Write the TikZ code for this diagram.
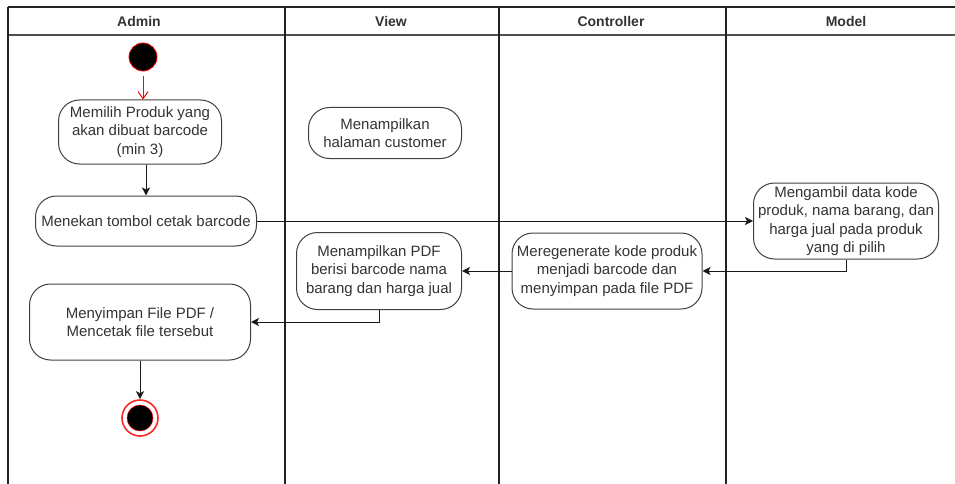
\documentclass[tikz,border=0pt]{standalone}
\usepackage{fontspec}
\setmainfont{Liberation Sans}
\usepackage{tikz}
\usetikzlibrary{arrows,arrows.meta,positioning,calc}
\definecolor{txt}{HTML}{333333}
\definecolor{lane}{HTML}{222222}

\begin{document}
\begin{tikzpicture}[x=1pt,y=-1pt,>={Stealth[length=8pt,width=8pt,inset=2pt]},
    act/.style={draw=black!75,line width=1pt,rounded corners=21pt,align=center,inner sep=0pt,
      text=txt,font=\fontsize{15}{18.5}\selectfont},
    head/.style={font=\bfseries\fontsize{14}{16}\selectfont,text=txt},
    flow/.style={->,line width=1pt,draw=black!90}]
    \useasboundingbox (0,0) rectangle (955,484);
    % swimlanes
    \draw[lane,line width=1.3pt] (8,7) -- (955,7);
    \draw[lane!80,line width=1.3pt] (8,35) -- (955,35);
    \foreach \lx in {8,285,499,726}
        \draw[lane,line width=1.3pt] (\lx,7) -- (\lx,484);
    \node[head] (hadmin) at (139,21) {Admin};
    \node[head] (hview) at (391,21) {View};
    \node[head] (hctrl) at (611,21) {Controller};
    \node[head] (hmodel) at (846,21) {Model};
    % start / end
    \node[circle,fill=black,draw=red,line width=.8pt,minimum size=28pt,inner sep=0pt] (start) at (143,57) {};
    \node[circle,draw=red!85,line width=1.6pt,fill=white,minimum size=36pt,inner sep=0pt] (stop) at (140,418) {};
    \node[circle,fill=black,draw=red,line width=.5pt,minimum size=26pt,inner sep=0pt] at (stop) {};
    % activities
    \node[act,minimum width=163pt,minimum height=64pt] (pilih) at (140,132)
        {Memilih Produk yang\\akan dibuat barcode\\(min 3)};
    \node[act,minimum width=221pt,minimum height=50pt] (tekan) at (146,221)
        {Menekan tombol cetak barcode};
    \node[act,minimum width=153pt,minimum height=51pt] (halaman) at (385,133)
        {Menampilkan\\halaman customer};
    \node[act,minimum width=185pt,minimum height=76pt] (ambil) at (846,221)
        {Mengambil data kode\\produk, nama barang, dan\\harga jual pada produk\\yang di pilih};
    \node[act,minimum width=190pt,minimum height=76pt] (regen) at (607,271)
        {Meregenerate kode produk\\menjadi barcode dan\\menyimpan pada file PDF};
    \node[act,minimum width=165pt,minimum height=77pt] (pdf) at (379,271)
        {Menampilkan PDF\\berisi barcode nama\\barang dan harga jual};
    \node[act,minimum width=221pt,minimum height=76pt] (simpan) at (140,322)
        {Menyimpan File PDF /\\Mencetak file tersebut};
    % flows
    \draw[-{Straight Barb[length=7pt,width=10pt]},red,line width=1pt,shorten <=5pt] (start) -- (start|-pilih.north);
    \draw[flow] (tekan.north|-pilih.south) -- (tekan.north);
    \draw[flow] (tekan.east) -- (ambil.west);
    \draw[flow] (ambil.south) |- (regen.east);
    \draw[flow] (regen.west) -- (pdf.east);
    \draw[flow] (pdf.south) |- (simpan.east);
    \draw[flow] (simpan.south) -- (stop.north);
\end{tikzpicture}
\end{document}
